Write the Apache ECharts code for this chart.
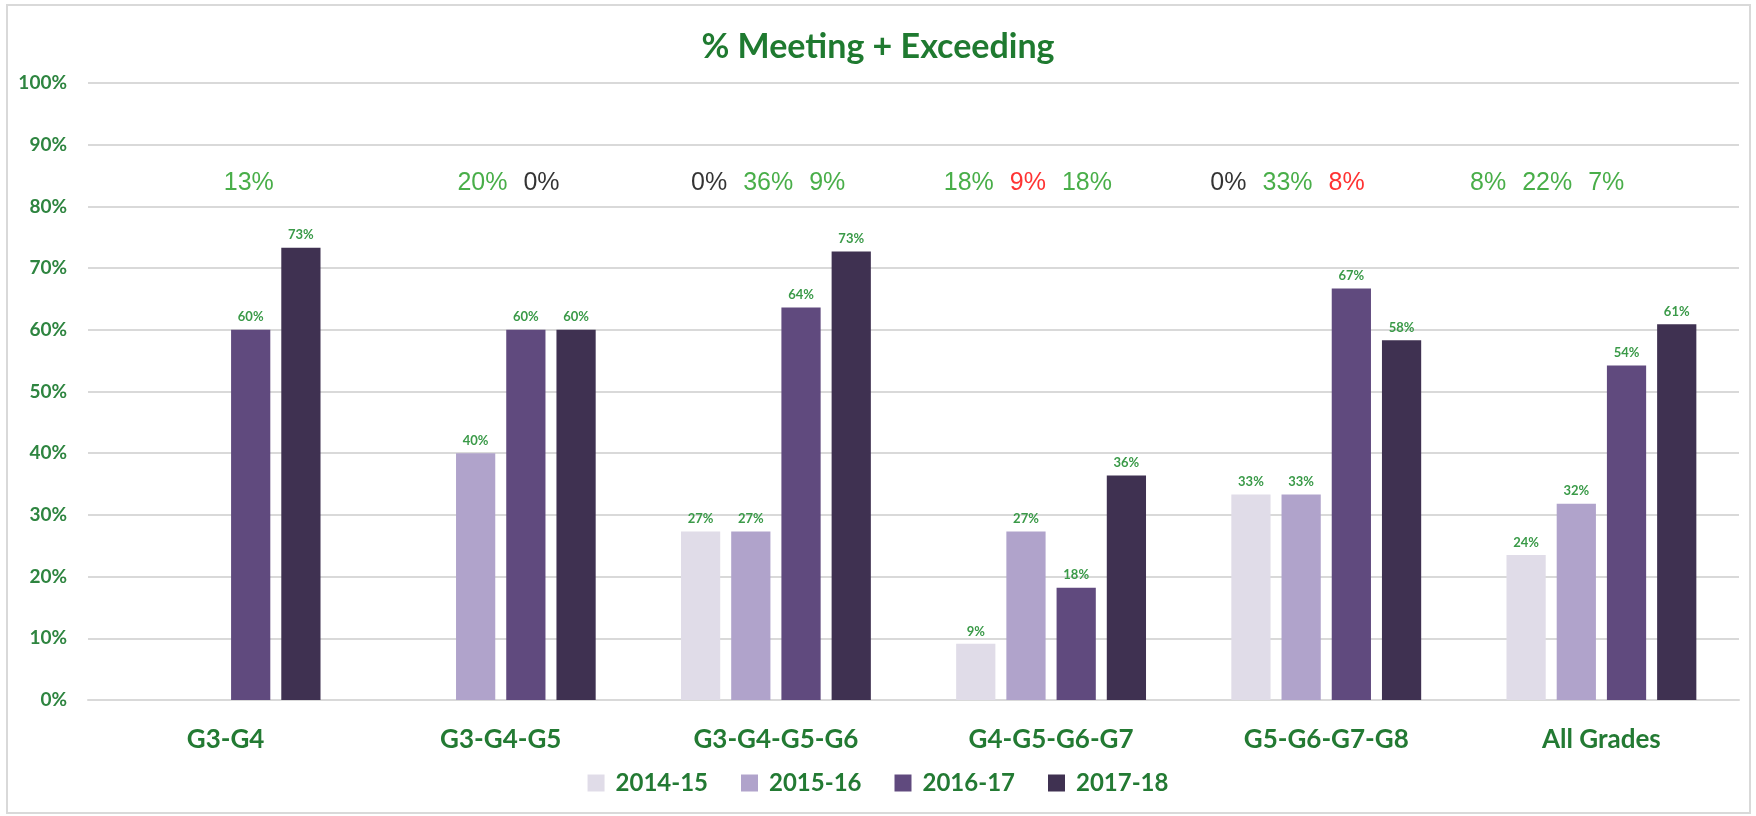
<!DOCTYPE html>
<html lang="en">
<head>
<meta charset="UTF-8">
<title>% Meeting + Exceeding</title>
<style>
  html, body { margin: 0; padding: 0; background: #fff; }
  #main { width: 1756px; height: 816px; }
</style>
</head>
<body>
<div id="main"></div>
<script src="https://cdn.jsdelivr.net/npm/echarts@6/dist/echarts.min.js"></script>
<script>
// groups of grades on the x axis
var grades = ['G3-G4', 'G3-G4-G5', 'G3-G4-G5-G6', 'G4-G5-G6-G7', 'G5-G6-G7-G8', 'All Grades'];
var years = ['2014-15', '2015-16', '2016-17', '2017-18'];

// % meeting + exceeding, one array per school year (null = no bar)
var y2014 = [null, null, 27.3, 9.1, 33.3, 23.5];
var y2015 = [null, 40, 27.3, 27.3, 33.3, 31.8];
var y2016 = [60, 60, 63.6, 18.2, 66.7, 54.2];
var y2017 = [73.3, 60, 72.7, 36.4, 58.3, 60.9];

// year-to-year change written above each group (sign gives the colour)
var changes = [[13], [20, 0], [0, 36, 9], [18, -9, 18], [0, 33, -8], [8, 22, 7]];
var noteLevel = 0.838;

var yTicks = [0, 10, 20, 30, 40, 50, 60, 70, 80, 90, 100];

var colors = ['#e0dce8', '#b0a3cb', '#604a7e', '#3f3151'];

var myChart = echarts.init(document.getElementById('main'));

var yearData = [y2014, y2015, y2016, y2017];
var barSeries = yearData.map(function (arr, i) {
    return {
        name: years[i],
        type: 'bar',
        data: arr,
        barGap: '28%',
        barCategoryGap: '31%',
        itemStyle: { color: colors[i] },
        label: {
            show: true,
            position: 'top',
            distance: 6,
            fontFamily: 'Lato',
            fontWeight: 'bold',
            fontSize: 13,
            color: '#3a9a48',
            formatter: function (p) { return Math.round(p.value) + '%'; }
        }
    };
});

var noteSeries = {
    type: 'scatter',
    xAxisIndex: 1,
    yAxisIndex: 1,
    symbolSize: 0,
    silent: true,
    data: changes.map(function () { return noteLevel; }),
    label: {
        show: true,
        position: 'inside',
        formatter: function (p) {
            return changes[p.dataIndex].map(function (v) {
                var tone = v > 0 ? 'up' : (v < 0 ? 'down' : 'flat');
                return '{' + tone + '|' + Math.abs(v) + '%}';
            }).join('');
        },
        rich: {
            up: { color: '#1c9a1c', fontSize: 25, fontFamily: 'Liberation Sans', padding: [0, 8] },
            down: { color: '#ff0000', fontSize: 25, fontFamily: 'Liberation Sans', padding: [0, 8] },
            flat: { color: '#000', fontSize: 25, fontFamily: 'Liberation Sans', padding: [0, 8] }
        }
    }
};

myChart.setOption({
    backgroundColor: '#fff',
    animation: false,
    title: {
        text: '% Meeting + Exceeding',
        left: 'center',
        top: 25,
        textStyle: { fontFamily: 'Lato', fontWeight: 'bold', fontSize: 34, color: '#1f7a30' }
    },
    legend: {
        data: years,
        bottom: 16,
        left: 'center',
        itemWidth: 17,
        itemHeight: 17,
        itemGap: 33,
        icon: 'rect',
        textStyle: { fontFamily: 'Lato', fontWeight: 'bold', fontSize: 24, color: '#237a33', padding: [0, 0, 0, 6] }
    },
    graphic: [{
        type: 'rect',
        shape: { x: 7, y: 5, width: 1743, height: 808 },
        style: { fill: 'none', stroke: '#d9d9d9', lineWidth: 2 },
        silent: true
    }],
    grid: [
        { left: 88, right: 17, top: 83, bottom: 116 },
        { left: 119, right: 79, top: 83, bottom: 116 }
    ],
    xAxis: [{
        type: 'category',
        data: grades,
        gridIndex: 0,
        axisTick: { show: false },
        axisLine: { show: true, lineStyle: { color: '#d9d9d9', width: 2 } },
        axisLabel: { margin: 27, fontFamily: 'Lato', fontWeight: 'bold', fontSize: 26, color: '#237a33' }
    }, {
        type: 'category',
        data: grades,
        gridIndex: 1,
        show: false
    }],
    yAxis: [{
        type: 'value',
        gridIndex: 0,
        min: yTicks[0],
        max: yTicks[yTicks.length - 1],
        interval: 10,
        axisLine: { show: false },
        axisTick: { show: false },
        splitLine: { lineStyle: { color: '#d9d9d9', width: 2 } },
        axisLabel: {
            margin: 21,
            fontFamily: 'Lato',
            fontWeight: 'bold',
            fontSize: 19,
            color: '#2e8540',
            formatter: '{value}%'
        }
    }, {
        type: 'value',
        gridIndex: 1,
        min: 0,
        max: 1,
        show: false
    }],
    series: barSeries.concat([noteSeries])
});
</script>
</body>
</html>
